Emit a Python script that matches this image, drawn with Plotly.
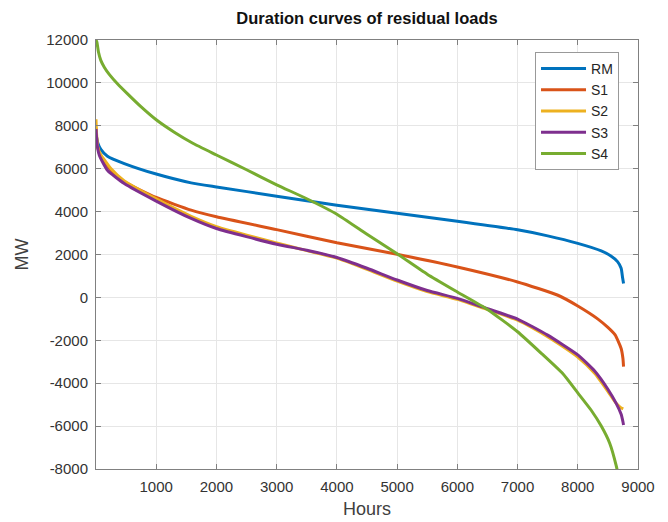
import plotly.graph_objects as go

# ---- data ----
rm_hours = [0, 30, 80, 190, 470, 1000, 1580, 2000, 3000, 4000, 5000, 6000, 7000, 7500, 8000, 8390, 8550, 8660, 8720, 8745, 8760]
rm_mw = [7600, 7200, 6900, 6580, 6240, 5750, 5340, 5150, 4720, 4300, 3920, 3550, 3150, 2870, 2520, 2170, 1930, 1670, 1360, 900, 650]

s1_hours = [0, 20, 80, 250, 470, 1000, 1580, 2000, 3000, 4000, 5000, 6000, 7000, 7670, 8000, 8330, 8500, 8620, 8720, 8750, 8760]
s1_mw = [7900, 7100, 6550, 5930, 5390, 4660, 4070, 3760, 3160, 2550, 2010, 1420, 720, 100, -400, -1000, -1400, -1750, -2380, -2850, -3230]

s2_hours = [0, 10, 30, 80, 250, 470, 1000, 1580, 2000, 3000, 3500, 4000, 4500, 5000, 5500, 6000, 6400, 7000, 7250, 7500, 8000, 8280, 8500, 8640, 8720, 8755]
s2_mw = [8300, 7600, 7000, 6650, 6000, 5430, 4590, 3780, 3300, 2540, 2180, 1830, 1310, 760, 270, -90, -470, -1060, -1420, -1830, -2780, -3540, -4380, -4950, -5150, -5200]

s3_hours = [0, 20, 55, 190, 470, 1000, 1580, 2000, 3000, 3500, 4000, 4500, 5000, 5500, 6000, 6400, 7000, 7250, 7500, 8000, 8280, 8500, 8640, 8720, 8750, 8760]
s3_mw = [7850, 7100, 6630, 5930, 5310, 4490, 3680, 3210, 2480, 2200, 1860, 1360, 810, 320, -45, -430, -1010, -1370, -1760, -2680, -3430, -4280, -4950, -5450, -5800, -5950]

s4_hours = [0, 15, 40, 80, 140, 220, 360, 520, 750, 1000, 1300, 1600, 2000, 2500, 3000, 3500, 4000, 4500, 5000, 5500, 6000, 6500, 7000, 7400, 7750, 8000, 8220, 8390, 8530, 8640, 8760]
s4_mw = [12000, 11900, 11450, 11050, 10720, 10400, 9950, 9500, 8880, 8280, 7700, 7200, 6640, 5950, 5250, 4600, 3880, 2940, 2030, 1080, 250, -560, -1600, -2620, -3550, -4450, -5250, -6000, -6800, -7870, -9500]

series_names = ["RM", "S1", "S2", "S3", "S4"]
series_x = [rm_hours, s1_hours, s2_hours, s3_hours, s4_hours]
series_y = [rm_mw, s1_mw, s2_mw, s3_mw, s4_mw]
colors = ["#0072BD", "#D95319", "#EDB120", "#7E2F8E", "#77AC30"]

x_ticks = [1000, 2000, 3000, 4000, 5000, 6000, 7000, 8000, 9000]
y_ticks = [-8000, -6000, -4000, -2000, 0, 2000, 4000, 6000, 8000, 10000, 12000]

fig = go.Figure()
for name, xs, ys, c in zip(series_names, series_x, series_y, colors):
    fig.add_trace(go.Scatter(x=xs, y=ys, mode="lines", name=name,
                             line=dict(color=c, width=3, shape="spline", smoothing=0.5)))

axis_common = dict(
    showline=True, linecolor="#808080", linewidth=1, mirror="ticks",
    ticks="inside", ticklen=5, tickcolor="#808080",
    showgrid=True, gridcolor="#E6E6E6", gridwidth=1, zeroline=False,
    tickfont=dict(family="Liberation Sans, Arial", size=15, color="#333333"),
    automargin=False, ticklabelstandoff=4,
)

# page body has an 8px margin, so the figure is 8px smaller and shifted
W, H = 660, 514
fig.update_layout(
    width=W, height=H,
    paper_bgcolor="white", plot_bgcolor="white",
    margin=dict(l=88, r=30, t=32, b=53),
    font=dict(family="Liberation Sans, Arial", color="#262626"),
    title=dict(text="<b>Duration curves of residual loads</b>", x=0.5, xref="paper", xanchor="center",
               y=1 - 10 / H, yanchor="middle", yref="container",
               font=dict(size=16.5, color="#111111", family="Liberation Sans, Arial")),
    xaxis=dict(range=[0, 9000], tickvals=x_ticks, ticktext=[str(v) for v in x_ticks],
               title=dict(text="Hours", font=dict(size=18, color="#404040"), standoff=8),
               **axis_common),
    yaxis=dict(range=[-8000, 12000], tickvals=y_ticks, ticktext=[str(v) for v in y_ticks],
               title=dict(text="MW", font=dict(size=18, color="#404040"), standoff=12),
               **axis_common),
    legend=dict(x=0.81, y=0.972, xanchor="left", yanchor="top",
                bgcolor="white", bordercolor="#999999", borderwidth=1,
                itemwidth=45,
                font=dict(size=14, color="#262626"), tracegroupgap=0),
    showlegend=True,
)

fig.write_html("out.html")
